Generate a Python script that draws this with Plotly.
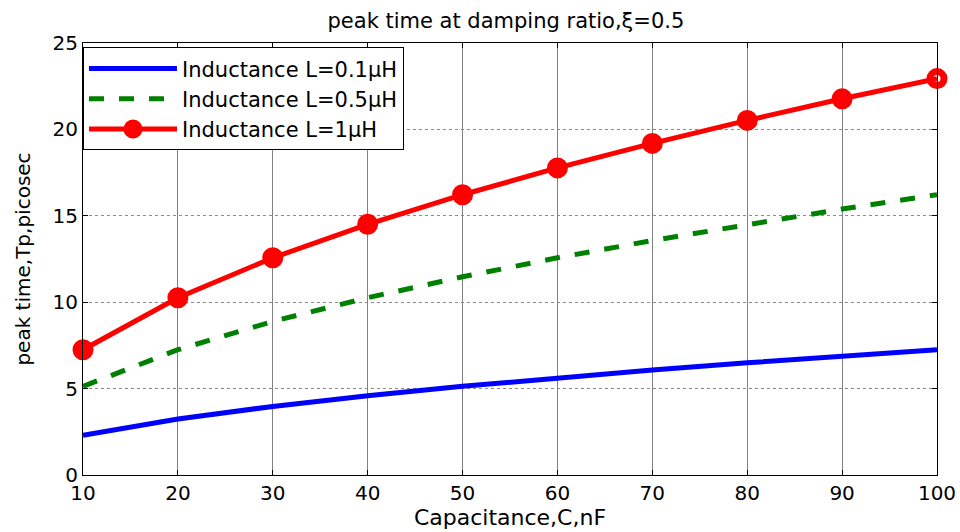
import plotly.graph_objects as go

capacitance = [10, 20, 30, 40, 50, 60, 70, 80, 90, 100]
tp_L01 = [2.30, 3.24, 3.97, 4.59, 5.13, 5.62, 6.07, 6.49, 6.88, 7.25]
tp_L05 = [5.13, 7.25, 8.89, 10.26, 11.47, 12.57, 13.57, 14.51, 15.39, 16.22]
tp_L1 = [7.25, 10.26, 12.57, 14.51, 16.22, 17.77, 19.19, 20.52, 21.77, 22.94]
names = ["Inductance L=0.1\u03bcH", "Inductance L=0.5\u03bcH", "Inductance L=1\u03bcH"]
x_ticks = [10, 20, 30, 40, 50, 60, 70, 80, 90, 100]
y_ticks = [0, 5, 10, 15, 20, 25]

FONT = "DejaVu Sans, Arial, sans-serif"

red_symbols = ["circle"] * (len(capacitance) - 1) + ["circle-open"]

fig = go.Figure()
fig.add_trace(go.Scatter(x=capacitance, y=tp_L01, mode="lines", name=names[0],
                         line=dict(color="#0000ff", width=5)))
fig.add_trace(go.Scatter(x=capacitance, y=tp_L05, mode="lines", name=names[1],
                         line=dict(color="#008000", width=5, dash="dash")))
fig.add_trace(go.Scatter(x=capacitance, y=tp_L1, mode="lines+markers", name=names[2],
                         line=dict(color="#ff0000", width=5),
                         marker=dict(color="#ff0000", size=14, symbol=red_symbols,
                                     line=dict(color="#ff0000", width=7)),
                         cliponaxis=False))

axis_common = dict(showline=True, linecolor="black", linewidth=1, mirror="ticks",
                   ticks="inside", ticklen=5, tickcolor="black",
                   tickfont=dict(family=FONT, size=20, color="black"),
                   zeroline=False, automargin=False)

fig.update_layout(
    width=960, height=532,
    margin=dict(l=83, r=23, t=43, b=57),
    paper_bgcolor="white", plot_bgcolor="white",
    title=dict(text="peak time at damping ratio,\u03be=0.5", x=0.527, xanchor="center",
               y=0.962, yanchor="middle",
               font=dict(family=FONT, size=21, color="black")),
    xaxis=dict(range=[10, 100], tickvals=x_ticks,
               showgrid=True, gridcolor="#808080", gridwidth=1,
               title=dict(text="Capacitance,C,nF", standoff=2,
                          font=dict(family=FONT, size=22, color="black")),
               **axis_common),
    yaxis=dict(range=[0, 25], tickvals=y_ticks,
               showgrid=True, gridcolor="#8a8a8a", gridwidth=1, griddash="dot",
               title=dict(text="peak time,Tp,picosec", standoff=16,
                          font=dict(family=FONT, size=20, color="black")),
               **axis_common),
    legend=dict(x=0.0, y=0.99, xanchor="left", yanchor="top",
                bgcolor="white", bordercolor="black", borderwidth=1,
                font=dict(family=FONT, size=21, color="black"),
                itemwidth=88, tracegroupgap=0),
    showlegend=True,
)

fig.write_html("out.html", config={"displayModeBar": False},
               post_script="document.body.style.margin='0';")
